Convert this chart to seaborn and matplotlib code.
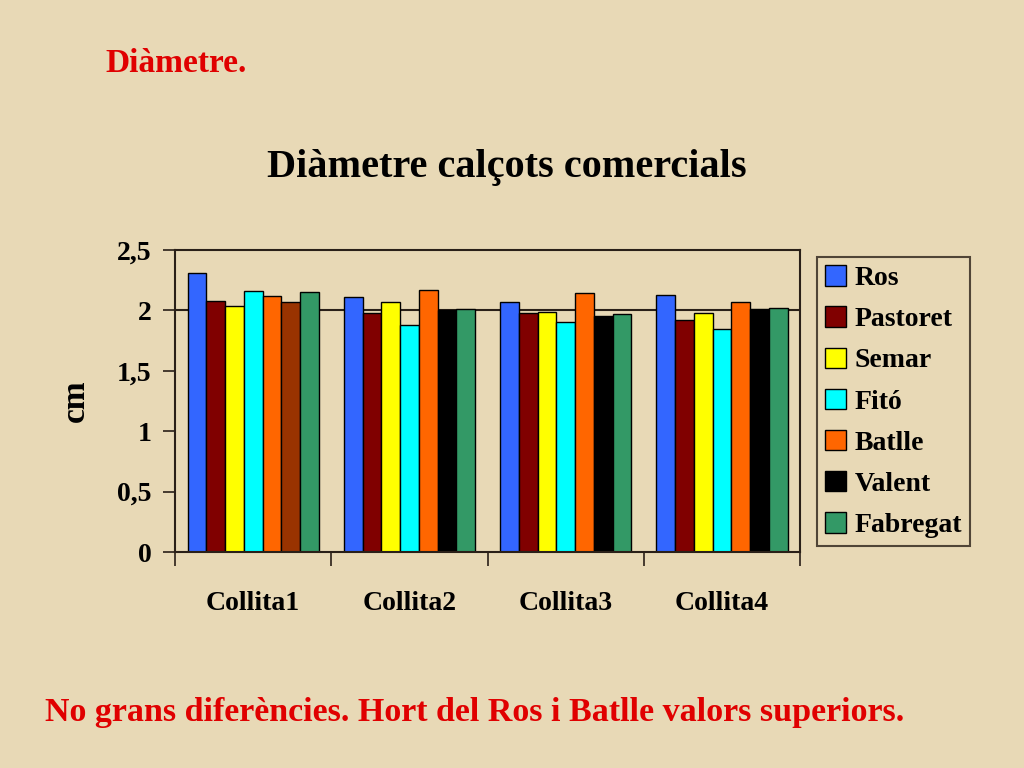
import numpy as np
import matplotlib
matplotlib.use("Agg")
import matplotlib.pyplot as plt
import pandas as pd
import seaborn as sns

collites = ['Collita1', 'Collita2', 'Collita3', 'Collita4']
varietats = ['Ros', 'Pastoret', 'Semar', 'Fitó', 'Batlle', 'Valent', 'Fabregat']
ros = [2.31, 2.11, 2.07, 2.13]
pastoret = [2.08, 1.98, 1.98, 1.92]
semar = [2.04, 2.07, 1.99, 1.98]
fito = [2.16, 1.88, 1.90, 1.85]
batlle = [2.12, 2.17, 2.14, 2.07]
valent = [2.07, 2.00, 1.95, 2.01]
fabregat = [2.15, 2.01, 1.97, 2.02]
yticks = [0, 0.5, 1, 1.5, 2, 2.5]
ytick_labels = ['0', '0,5', '1', '1,5', '2', '2,5']

colors = ['#3366FF', '#800000', '#FFFF00', '#00FFFF', '#FF6600', '#000000', '#339966']
bg = '#E8D9B6'
dark = '#2a2018'

values = [ros, pastoret, semar, fito, batlle, valent, fabregat]
rows = []
for v, serie in zip(varietats, values):
    for c, val in zip(collites, serie):
        rows.append({'collita': c, 'varietat': v, 'cm': val})
df = pd.DataFrame(rows)

sns.set_style("ticks")
plt.rcParams['font.family'] = ['Liberation Serif', 'DejaVu Serif']
plt.rcParams['font.weight'] = 'bold'
plt.rcParams['text.color'] = 'black'
plt.rcParams['axes.labelcolor'] = 'black'
plt.rcParams['xtick.color'] = dark
plt.rcParams['ytick.color'] = dark
plt.rcParams['xtick.labelcolor'] = 'black'
plt.rcParams['ytick.labelcolor'] = 'black'

fig = plt.figure(figsize=(10.24, 7.68), dpi=100, facecolor=bg)
ax = fig.add_axes([175/1024, 1-552/768, 625/1024, 302/768])
ax.set_facecolor(bg)

ax.axhline(2, color=dark, lw=1.5, zorder=0)
sns.barplot(data=df, x='collita', y='cm', hue='varietat', order=collites,
            hue_order=varietats, palette=colors, width=0.84, saturation=1,
            edgecolor='black', linewidth=1, ax=ax, legend=True, zorder=2)

# in Collita1 the Valent bar is brown in the original
ax.containers[5][0].set_facecolor('#993300')

ax.set_ylim(0, 2.5)
ax.set_xlim(-0.5, 3.5)
ax.set_yticks(yticks)
ax.set_yticklabels(ytick_labels, fontsize=20, fontweight='bold')
ax.set_xticks([-0.5, 0.5, 1.5, 2.5, 3.5], minor=False)
ax.set_xticklabels([])
ax.set_xticks([0, 1, 2, 3], minor=True)
ax.set_xticklabels(collites, minor=True, fontsize=20, fontweight='bold')
ax.tick_params(axis='x', which='major', bottom=True, direction='out', length=10, width=1.2)
ax.tick_params(axis='x', which='minor', bottom=True, length=0, pad=28)
ax.tick_params(axis='y', left=True, direction='out', length=9, width=1.2, pad=8)
ax.set_xlabel('')
ax.set_ylabel('cm', fontsize=24, fontweight='bold')
ax.yaxis.set_label_coords(-0.134, 0.5)
for s in ax.spines.values():
    s.set_visible(True)
    s.set_color(dark)
    s.set_linewidth(1.5)

ax.legend_.remove()
handles, labels = ax.get_legend_handles_labels()
leg = fig.legend(handles[:7], labels[:7], loc='upper left',
                 bbox_to_anchor=(817/1024, 1-257/768), frameon=True,
                 prop={'size': 20, 'weight': 'bold'}, handlelength=0.75,
                 handleheight=0.75, handletextpad=0.3, labelspacing=0.55,
                 borderpad=0.3, borderaxespad=0, fancybox=False)
leg.get_frame().set_edgecolor(dark)
leg.get_frame().set_facecolor(bg)
leg.get_frame().set_linewidth(1.5)
for p in leg.get_patches():
    p.set_edgecolor('black')

fig.text(507/1024, 1-167/768, 'Diàmetre calçots comercials', ha='center', va='center',
         fontsize=29, fontweight='bold')
fig.text(105/1024, 1-63/768, 'Diàmetre.', ha='left', va='center',
         fontsize=24, fontweight='bold', color='#E00000')
fig.text(45/1024, 1-712/768, 'No grans diferències. Hort del Ros i Batlle valors superiors.',
         ha='left', va='center', fontsize=24.5, fontweight='bold', color='#E00000')

fig.savefig('out.png', dpi=100, facecolor=bg)
